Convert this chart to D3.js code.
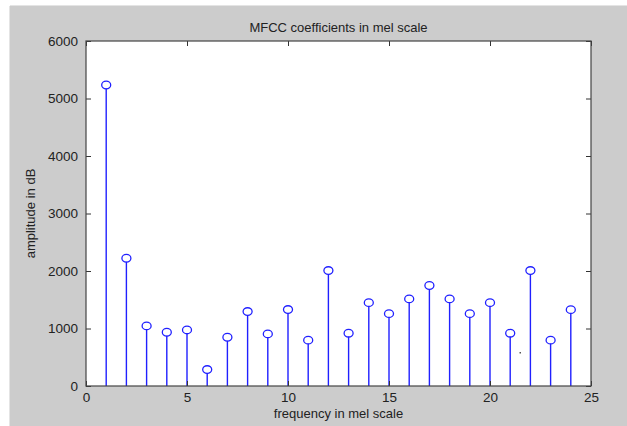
<!DOCTYPE html>
<meta charset="utf-8">
<style>
    body { margin: 0; background: #fff; }
    text { font-family: "Liberation Sans", Arial, sans-serif; fill: #222; }
    .tick text { font-size: 13.5px; }
</style>
<svg width="627" height="426"></svg>
<script src="https://d3js.org/d3.v7.min.js"></script>
<script>

    // MFCC coefficient index and amplitude (dB)
    var coeffIndex = [1, 2, 3, 4, 5, 6, 7, 8, 9, 10, 11, 12,
                      13, 14, 15, 16, 17, 18, 19, 20, 21, 22, 23, 24];
    var amplitude = [5235, 2222, 1045, 935, 975, 286, 848, 1295, 906, 1330, 797, 2008,
                     918, 1450, 1258, 1515, 1748, 1515, 1258, 1450, 918, 2008, 797, 1328];
    var xTicks = [0, 5, 10, 15, 20, 25];
    var yTicks = [0, 1000, 2000, 3000, 4000, 5000, 6000];

    var svg = d3.select("svg");

    // figure background (MATLAB grey) with thin light edge
    svg.append("rect").attr("x", 10).attr("y", 6).attr("width", 617).attr("height", 420)
        .attr("fill", "#cccccc");
    svg.append("line").attr("x1", 10).attr("x2", 627).attr("y1", 5.5).attr("y2", 5.5)
        .attr("stroke", "#e4e4e4");
    svg.append("line").attr("x1", 9.5).attr("x2", 9.5).attr("y1", 6).attr("y2", 426)
        .attr("stroke", "#e4e4e4");

    var plotL = 86, plotR = 591, plotT = 41, plotB = 386;

    var x = d3.scaleLinear().domain([0, 25]).range([plotL, plotR]);
    var y = d3.scaleLinear().domain([0, 6000]).range([plotB, plotT]);

    svg.append("rect")
        .attr("x", plotL).attr("y", plotT)
        .attr("width", plotR - plotL).attr("height", plotB - plotT)
        .attr("fill", "#fff");

    // stems
    var g = svg.append("g");
    g.selectAll("line.stem").data(coeffIndex).enter().append("line")
        .attr("class", "stem")
        .attr("x1", function (d) { return x(d); })
        .attr("x2", function (d) { return x(d); })
        .attr("y1", y(0))
        .attr("y2", function (d, i) { return y(amplitude[i]) + 3.5; })
        .attr("stroke", "#2020ff")
        .attr("stroke-width", 1.4);

    g.selectAll("ellipse").data(coeffIndex).enter().append("ellipse")
        .attr("cx", function (d) { return x(d); })
        .attr("cy", function (d, i) { return y(amplitude[i]); })
        .attr("rx", 4.5).attr("ry", 3.8)
        .attr("fill", "none")
        .attr("stroke", "#2020ff")
        .attr("stroke-width", 1.3);

    // stray speck visible in the original figure
    svg.append("rect").attr("x", 519.5).attr("y", 352).attr("width", 1.5).attr("height", 1.5)
        .attr("fill", "#555");

    // axes, MATLAB style: ticks inside the box
    var xAxis = d3.axisBottom(x).tickValues(xTicks).tickFormat(d3.format("d"))
        .tickSizeInner(-5).tickSizeOuter(0).tickPadding(6);
    var yAxis = d3.axisLeft(y).tickValues(yTicks).tickFormat(d3.format("d"))
        .tickSizeInner(-5).tickSizeOuter(0).tickPadding(8);

    var gx = svg.append("g").attr("transform", "translate(0," + plotB + ")").call(xAxis);
    var gy = svg.append("g").attr("transform", "translate(" + plotL + ",0)").call(yAxis);
    var gx2 = svg.append("g").attr("transform", "translate(0," + plotT + ")")
        .call(d3.axisTop(x).tickValues(xTicks).tickSizeInner(-5).tickSizeOuter(0).tickFormat(""));
    var gy2 = svg.append("g").attr("transform", "translate(" + plotR + ",0)")
        .call(d3.axisRight(y).tickValues(yTicks).tickSizeInner(-5).tickSizeOuter(0).tickFormat(""));

    [gx, gy, gx2, gy2].forEach(function (a) {
        a.select(".domain").remove();
        a.selectAll(".tick line").attr("stroke", "#333");
        a.selectAll(".tick text").attr("fill", "#222");
    });
    gy.selectAll(".tick text").attr("dy", "0.3em");

    svg.append("rect")
        .attr("x", plotL).attr("y", plotT)
        .attr("width", plotR - plotL).attr("height", plotB - plotT)
        .attr("fill", "none").attr("stroke", "#444").attr("stroke-width", 1.2);

    svg.append("text").attr("x", (plotL + plotR) / 2).attr("y", 32)
        .attr("text-anchor", "middle").style("font-size", "13px")
        .text("MFCC coefficients in mel scale");

    svg.append("text").attr("x", (plotL + plotR) / 2).attr("y", 418)
        .attr("text-anchor", "middle").style("font-size", "13px")
        .text("frequency in mel scale");

    svg.append("text")
        .attr("transform", "translate(35," + (plotT + plotB) / 2 + ") rotate(-90)")
        .attr("text-anchor", "middle").style("font-size", "13px")
        .text("amplitude in dB");

</script>
